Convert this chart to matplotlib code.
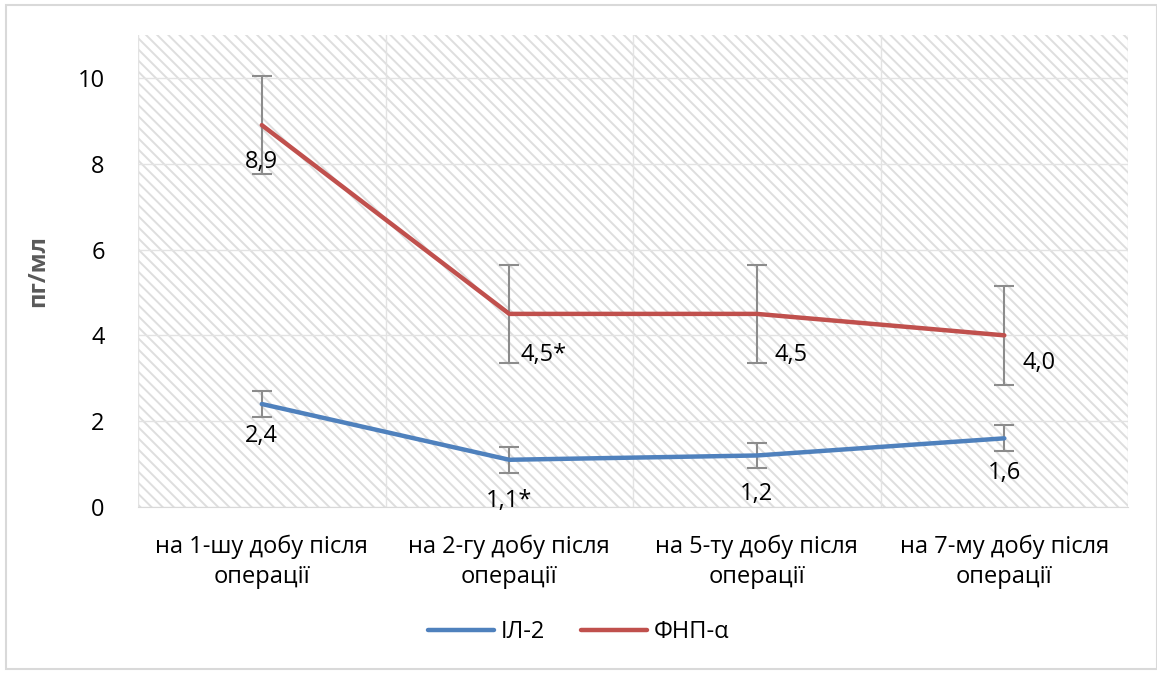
import numpy as np
import matplotlib
matplotlib.use("Agg")
import matplotlib.pyplot as plt
from matplotlib.patches import Rectangle

plt.rcParams['font.family'] = ['Open Sans', 'DejaVu Sans']
plt.rcParams['hatch.linewidth'] = 1.4

categories = ['на 1-шу добу після\nоперації', 'на 2-гу добу після\nоперації',
              'на 5-ту добу після\nоперації', 'на 7-му добу після\nоперації']
il2 = [2.4, 1.1, 1.2, 1.6]
il2_err = [0.3, 0.3, 0.3, 0.3]
il2_labels = ['2,4', '1,1*', '1,2', '1,6']
tnf = [8.9, 4.5, 4.5, 4.0]
tnf_err = [1.15, 1.15, 1.15, 1.15]
tnf_labels = ['8,9', '4,5*', '4,5', '4,0']

blue = '#4f81bd'
red = '#c0504d'
fs = 17

fig = plt.figure(figsize=(11.57, 6.73), dpi=100)
ax = fig.add_axes([0.1193, 0.2467, 0.8557, 0.7013])

x = np.arange(len(categories))

# hatched plot background
ax.add_patch(Rectangle((0, 0), 1, 1, transform=ax.transAxes, facecolor='white',
                       edgecolor='#dedede', hatch='\\\\\\', lw=0, zorder=0))

ax.set_xlim(-0.5, 3.5)
ax.set_ylim(0, 11)
ax.set_yticks([0, 2, 4, 6, 8, 10])
ax.set_xticks(x)
ax.set_xticklabels(categories, fontsize=fs, linespacing=1.35)
ax.set_xticks(np.arange(-0.5, 3.6, 0.5), minor=True)
ax.tick_params(axis='both', which='both', length=0, labelsize=fs)
ax.tick_params(axis='y', pad=24)
ax.tick_params(axis='x', pad=20)
ax.grid(True, which='minor', axis='x', color='#e3e3e3', lw=1, zorder=1)
ax.grid(True, which='major', axis='y', color='#e3e3e3', lw=1, zorder=1)
ax.set_axisbelow(True)
for s in ['left', 'right', 'top']:
    ax.spines[s].set_visible(False)
ax.spines['bottom'].set_color('#d9d9d9')

ax.errorbar(x, il2, yerr=il2_err, fmt='none', ecolor='#8c8c8c', elinewidth=1.5,
            capsize=7, capthick=1.5, zorder=3)
ax.errorbar(x, tnf, yerr=tnf_err, fmt='none', ecolor='#8c8c8c', elinewidth=1.5,
            capsize=7, capthick=1.5, zorder=3)
ax.plot(x, il2, color=blue, lw=3.2, solid_capstyle='round', label='ІЛ-2', zorder=4)
ax.plot(x, tnf, color=red, lw=3.2, solid_capstyle='round', label='ФНП-α', zorder=4)

# value labels
il2_off = [(0, -0.75), (0, -0.95), (0, -0.9), (0, -0.8)]
for xi, yi, lab, (dx, dy) in zip(x, il2, il2_labels, il2_off):
    ax.text(xi + dx, yi + dy, lab, ha='center', va='center', fontsize=fs, zorder=5)
tnf_off = [(0, -0.85), (0.14, -0.95), (0.14, -0.95), (0.14, -0.65)]
for xi, yi, lab, (dx, dy) in zip(x, tnf, tnf_labels, tnf_off):
    ax.text(xi + dx, yi + dy, lab, ha='center', va='center', fontsize=fs, zorder=5)

ax.set_ylabel('пг/мл', fontsize=fs, fontweight='bold', labelpad=20, color='#595959')

fig.legend(loc='center', bbox_to_anchor=(0.5, 0.061), ncol=2, frameon=False,
           fontsize=fs, handlelength=2.8, handletextpad=0.3, columnspacing=1.5)

# chart border
fig.add_artist(Rectangle((0.005, 0.006), 0.995, 0.987, transform=fig.transFigure,
                         fill=False, edgecolor='#d9d9d9', lw=1.5))

fig.savefig('out.png', dpi=100)
